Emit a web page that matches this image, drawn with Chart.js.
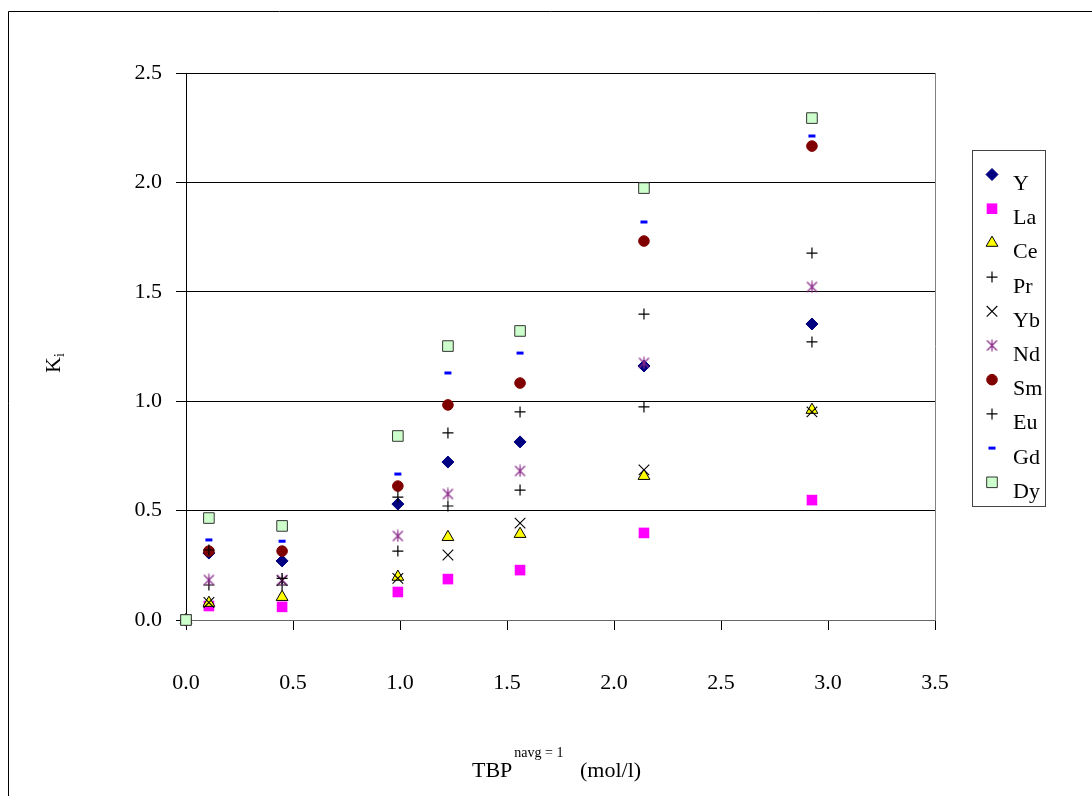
<!DOCTYPE html>
<html><head><meta charset="utf-8">
<script src="https://cdn.jsdelivr.net/npm/chart.js@4.4.1/dist/chart.umd.min.js"></script>
<style>html,body{margin:0;padding:0;background:#fff}canvas{display:block}</style>
</head><body>
<canvas id="c" width="1092" height="796"></canvas>
<script>
// ---- data ----
const tbp = [0, 0.107, 0.449, 0.99, 1.224, 1.561, 2.14, 2.925];
const seriesNames = ['Y', 'La', 'Ce', 'Pr', 'Yb', 'Nd', 'Sm', 'Eu', 'Gd', 'Dy'];
const kY  = [0, 0.306, 0.270, 0.530, 0.722, 0.814, 1.161, 1.353];
const kLa = [0, 0.064, 0.060, 0.128, 0.187, 0.228, 0.398, 0.548];
const kCe = [0, 0.078, 0.105, 0.197, 0.379, 0.393, 0.658, 0.960];
const kPr = [0, 0.160, 0.160, 0.315, 0.521, 0.594, 0.974, 1.271];
const kYb = [0, 0.080, 0.180, 0.190, 0.297, 0.443, 0.686, 0.951];
const kNd = [0, 0.183, 0.183, 0.384, 0.576, 0.681, 1.175, 1.522];
const kSm = [0, 0.315, 0.315, 0.612, 0.983, 1.083, 1.732, 2.166];
const kEu = [0, 0.320, 0.190, 0.562, 0.855, 0.951, 1.398, 1.677];
const kGd = [0, 0.366, 0.360, 0.667, 1.129, 1.220, 1.819, 2.212];
const kDy = [0, 0.466, 0.430, 0.841, 1.252, 1.321, 1.974, 2.294];
const xTickValues = [0, 0.5, 1.0, 1.5, 2.0, 2.5, 3.0, 3.5];
const yTickValues = [0, 0.5, 1.0, 1.5, 2.0, 2.5];
const xTitle = 'TBP', xTitleSup = 'navg = 1', xTitleUnit = '(mol/l)';
const yTitle = 'K', yTitleSub = 'i';

// ---- styles ----
const FONT = '"Liberation Serif", "Times New Roman", serif';
function makeStar(color) {
  const c = document.createElement('canvas');
  c.width = 13; c.height = 13;
  const g = c.getContext('2d');
  g.strokeStyle = color; g.lineWidth = 1.2;
  g.beginPath();
  g.moveTo(1.5, 1.5); g.lineTo(11.5, 11.5);
  g.moveTo(11.5, 1.5); g.lineTo(1.5, 11.5);
  g.moveTo(6.5, 0.5); g.lineTo(6.5, 12.5);
  g.stroke();
  return c;
}
const seriesValues = [kY, kLa, kCe, kPr, kYb, kNd, kSm, kEu, kGd, kDy];
const styles = [
  {pointStyle: 'rectRot', radius: 6, bg: '#000080', border: '#000080', bw: 1},
  {pointStyle: 'rect', radius: 7.5, bg: '#ff00ff', border: '#ff00ff', bw: 0},
  {pointStyle: 'triangle', radius: 6.8, bg: '#ffff00', border: '#000000', bw: 1},
  {pointStyle: 'cross', radius: 5.5, bg: '#000000', border: '#000000', bw: 1.2},
  {pointStyle: 'crossRot', radius: 7.5, bg: '#000000', border: '#000000', bw: 1.1},
  {pointStyle: makeStar('#8a2a8a'), radius: 6, bg: '#8a2a8a', border: '#8a2a8a', bw: 1},
  {pointStyle: 'circle', radius: 5.3, bg: '#800000', border: '#800000', bw: 1},
  {pointStyle: 'cross', radius: 5.5, bg: '#000000', border: '#000000', bw: 1.2},
  {pointStyle: 'line', radius: 3.5, bg: '#0000ff', border: '#0000ff', bw: 3},
  {pointStyle: 'rect', radius: 7.5, bg: '#ccffcc', border: '#333333', bw: 1}
];

const datasets = seriesNames.map((name, i) => ({
  label: name,
  data: tbp.map((x, j) => ({x: x, y: seriesValues[i][j]})),
  showLine: false,
  clip: false,
  pointStyle: styles[i].pointStyle,
  pointRadius: styles[i].radius,
  pointHoverRadius: styles[i].radius,
  backgroundColor: styles[i].bg,
  borderColor: styles[i].border,
  pointBorderWidth: styles[i].bw,
  borderWidth: styles[i].bw,
  order: seriesNames.length - 1 - i
}));

const framePlugin = {
  id: 'frame',
  beforeDraw(chart) {
    const ctx = chart.ctx;
    ctx.save();
    ctx.fillStyle = '#fff';
    ctx.fillRect(0, 0, chart.width, chart.height);
    ctx.strokeStyle = '#000'; ctx.lineWidth = 1;
    ctx.beginPath();
    ctx.moveTo(8.5, 796); ctx.lineTo(8.5, 11.5); ctx.lineTo(1092, 11.5);
    ctx.stroke();
    ctx.restore();
  },
  afterDraw(chart) {
    const ctx = chart.ctx;
    ctx.save();
    ctx.fillStyle = '#000';
    ctx.textBaseline = 'alphabetic';
    ctx.textAlign = 'left';
    // x title
    ctx.font = '22px ' + FONT;
    ctx.fillText(xTitle, 472, 777);
    const wT = ctx.measureText(xTitle).width;
    ctx.font = '14px ' + FONT;
    ctx.fillText(xTitleSup, 472 + wT + 2, 757);
    ctx.font = '22px ' + FONT;
    ctx.fillText(xTitleUnit, 580, 777);
    // y title
    ctx.save();
    ctx.translate(60, 373);
    ctx.rotate(-Math.PI / 2);
    ctx.font = '22px ' + FONT;
    ctx.fillText(yTitle, 0, 0);
    const wK = ctx.measureText(yTitle).width;
    ctx.font = '14px ' + FONT;
    ctx.fillText(yTitleSub, wK, 4);
    ctx.restore();
    // legend
    const lx = 972, ly = 150, lw = 73, lh = 356;
    ctx.strokeStyle = '#444'; ctx.lineWidth = 1;
    ctx.strokeRect(lx + 0.5, ly + 0.5, lw, lh);
    seriesNames.forEach((name, i) => {
      const my = 174.5 + i * 34.2;
      const s = styles[i];
      ctx.save();
      ctx.fillStyle = s.bg; ctx.strokeStyle = s.border; ctx.lineWidth = s.bw;
      Chart.helpers.drawPoint(ctx, {pointStyle: s.pointStyle, radius: s.radius, rotation: 0, borderWidth: s.bw}, 992, my);
      ctx.restore();
      ctx.font = '22px ' + FONT;
      ctx.fillStyle = '#000';
      ctx.fillText(name, 1013, my + 15.5);
    });
    ctx.restore();
  }
};

new Chart(document.getElementById('c'), {
  type: 'scatter',
  data: {datasets: datasets},
  options: {
    responsive: false,
    animation: false,
    devicePixelRatio: 1,
    layout: {padding: {top: 73, right: 157, bottom: 0, left: 0}},
    plugins: {legend: {display: false}, tooltip: {enabled: false}, title: {display: false}},
    scales: {
      x: {
        type: 'linear', min: 0, max: 3.5,
        afterBuildTicks: s => { s.ticks = xTickValues.map(v => ({value: v})); },
        afterFit: s => { s.height = 176; },
        ticks: {font: {family: FONT, size: 22}, color: '#000', padding: 40,
                callback: v => Number(v).toFixed(1), maxRotation: 0, autoSkip: false},
        grid: {
          color: c => (c.tick && c.tick.value === 3.5) ? '#808080' : 'rgba(0,0,0,0)',
          tickColor: '#000', tickLength: 10, lineWidth: 1
        },
        border: {color: '#666', width: 1}
      },
      y: {
        type: 'linear', min: 0, max: 2.5,
        afterBuildTicks: s => { s.ticks = yTickValues.map(v => ({value: v})); },
        afterFit: s => { s.width = 186; },
        ticks: {font: {family: FONT, size: 22}, color: '#000', padding: 14,
                callback: v => Number(v).toFixed(1), autoSkip: false},
        grid: {
          color: c => (c.tick && c.tick.value === 0) ? '#666' : '#000',
          tickColor: '#000', tickLength: 10, lineWidth: 1
        },
        border: {color: '#000', width: 1}
      }
    }
  },
  plugins: [framePlugin]
});
</script>
</body></html>
